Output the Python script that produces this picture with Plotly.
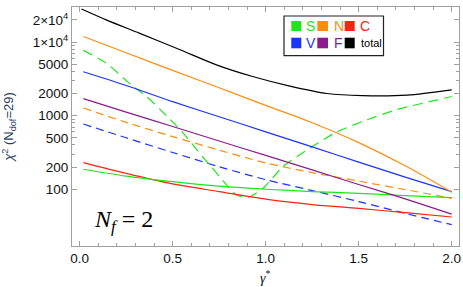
import plotly.graph_objects as go

# ---- data ----
gamma = [0.02, 0.25, 0.5, 0.75, 1.0, 1.25, 1.5, 1.75, 2.0]
S_solid = [187, 151, 127, 110, 100, 93, 88, 82, 77]
N_solid = [11900, 7150, 4120, 2390, 1380, 800, 430, 208, 91]
C_solid = [230, 164, 118, 93, 73.5, 62, 55, 48, 42]
V_solid = [3950, 2570, 1550, 966, 603, 376, 234, 146, 93]
F_solid = [1700, 1117, 711, 452, 288, 183, 116, 74, 46]
N_dash = [1270, 810, 520, 340, 228, 168, 129, 99, 75]
V_dash = [770, 500, 316, 202, 135, 96, 68, 47, 33]
total_x = [0.01, 0.143, 0.32, 0.54, 0.735, 0.93, 1.13, 1.33, 1.52, 1.76, 2.0]
total_y = [28100, 20000, 13200, 7850, 4900, 3400, 2520, 2000, 1870, 1900, 2240]
S_dash_x = [0.02, 0.143, 0.287, 0.36, 0.48, 0.55, 0.66, 0.70, 0.79, 0.84, 0.878,
            0.914, 0.986, 1.093, 1.237, 1.38, 1.52, 1.70, 2.0]
S_dash_y = [7700, 5180, 2490, 1820, 925, 608, 278, 214, 114, 84, 78,
            79, 103, 203, 361, 597, 832, 1200, 1820]

ytick_vals = [100, 200, 500, 1000, 2000, 5000, 10000, 20000]
ytick_text = ["100", "200", "500", "1000", "2000", "5000",
              "1\u00d710<sup>4</sup>", "2\u00d710<sup>4</sup>"]
yminor_vals = [300, 400, 600, 700, 800, 900, 3000, 4000, 6000, 7000, 8000, 9000]

legend_rows = [["S", "N", "C"], ["V", "F", "total"]]

GREEN = "#1ee61e"
ORANGE = "#ff8c0f"
RED = "#ff2211"
BLUE = "#1a33ff"
PURPLE = "#8c1a8c"
BLACK = "#000000"
colors = {"S": GREEN, "N": ORANGE, "C": RED, "V": BLUE, "F": PURPLE, "total": BLACK}

fig = go.Figure()

def add(x, y, color, dash=None, smoothing=0.8):
    fig.add_trace(go.Scatter(
        x=x, y=y, mode="lines",
        line=dict(color=color, width=1.2, dash=dash, shape="spline", smoothing=smoothing),
        showlegend=False, hoverinfo="skip"))

add(gamma, V_dash, BLUE, "8px,5px")
add(gamma, N_dash, ORANGE, "8px,5px")
add(S_dash_x, S_dash_y, GREEN, "10px,6px", 0.5)
add(gamma, C_solid, RED)
add(gamma, S_solid, GREEN)
add(gamma, F_solid, PURPLE)
add(gamma, V_solid, BLUE)
add(gamma, N_solid, ORANGE, smoothing=1.0)
add(total_x, total_y, BLACK)

# plot area geometry (px) for legend placement in paper coords
L, R, T, B = 72.0, 459.0, 7.0, 246.0
def px(xp):
    return (xp - L) / (R - L)
def py(yp):
    return (B - yp) / (B - T)

shapes = [dict(type="rect", xref="paper", yref="paper",
               x0=px(284), x1=px(383.5), y0=py(55.7), y1=py(16),
               line=dict(color="#222", width=1.2), fillcolor="white", layer="above")]
annotations = []
col_sq = [(291.3, 301.3), (317.3, 328.0), (344.7, 354.7)]
col_tx = [304.0, 331.5, 357.5]
row_sq = [(21.0, 31.0), (37.7, 48.3)]
row_cy = [26.0, 43.0]
for r, row in enumerate(legend_rows):
    for c, name in enumerate(row):
        col = colors[name]
        shapes.append(dict(type="rect", xref="paper", yref="paper",
                           x0=px(col_sq[c][0]), x1=px(col_sq[c][1]),
                           y0=py(row_sq[r][1]), y1=py(row_sq[r][0]),
                           line=dict(width=0), fillcolor=col, layer="above"))
        annotations.append(dict(xref="paper", yref="paper",
                                x=px(col_tx[c] + (1.5 if name == "total" else 0)), y=py(row_cy[r]),
                                xanchor="left", yanchor="middle", showarrow=False,
                                text=name,
                                font=dict(family="Liberation Sans", size=11 if name == "total" else 14,
                                          color=col)))

annotations.append(dict(xref="paper", yref="paper", x=px(123), y=py(221),
                        xanchor="center", yanchor="middle", showarrow=False,
                        text="<i>N</i><sub><i>f</i></sub> = 2",
                        font=dict(family="Liberation Serif", size=24, color="black")))

# x-axis title placed just below the tick labels
annotations.append(dict(xref="paper", yref="paper", x=px(265.5), y=py(277),
                        xanchor="center", yanchor="middle", showarrow=False,
                        text="<i>γ</i><sup>*</sup>",
                        font=dict(family="Liberation Serif", size=14, color="#111")))

axis_common = dict(showline=True, linecolor="#a0a0a0", linewidth=1, mirror="allticks",
                   ticks="inside", ticklen=5, tickcolor="#a0a0a0", showgrid=False,
                   zeroline=False, automargin=False,
                   tickfont=dict(family="Liberation Sans", size=13.5, color="#111"))

fig.update_layout(
    width=463, height=287,
    margin=dict(l=72, r=4, t=7, b=41, autoexpand=False),
    paper_bgcolor="white", plot_bgcolor="white",
    shapes=shapes, annotations=annotations,
    xaxis=dict(range=[-0.041, 2.039], tickmode="array", tickvals=[0, 0.5, 1.0, 1.5, 2.0],
               ticktext=["0.0", "0.5", "1.0", "1.5", "2.0"],
               minor=dict(dtick=0.1, tick0=0, ticks="inside", ticklen=3, tickcolor="#a0a0a0"),
               **axis_common),
    yaxis=dict(type="log", range=[1.229, 4.476], tickmode="array", tickvals=ytick_vals,
               ticktext=ytick_text,
               minor=dict(tickmode="array", tickvals=yminor_vals, ticks="inside", ticklen=3,
                          tickcolor="#a0a0a0"),
               title=dict(text="<i>χ</i><sup>2</sup> (N<sub>dof</sub>=29)",
                          font=dict(family="Liberation Sans", size=13), standoff=22),
               **axis_common),
)

fig.write_html("out.html", config={"displayModeBar": False},
               post_script="document.body.style.margin='0px';document.body.style.overflow='hidden';")
